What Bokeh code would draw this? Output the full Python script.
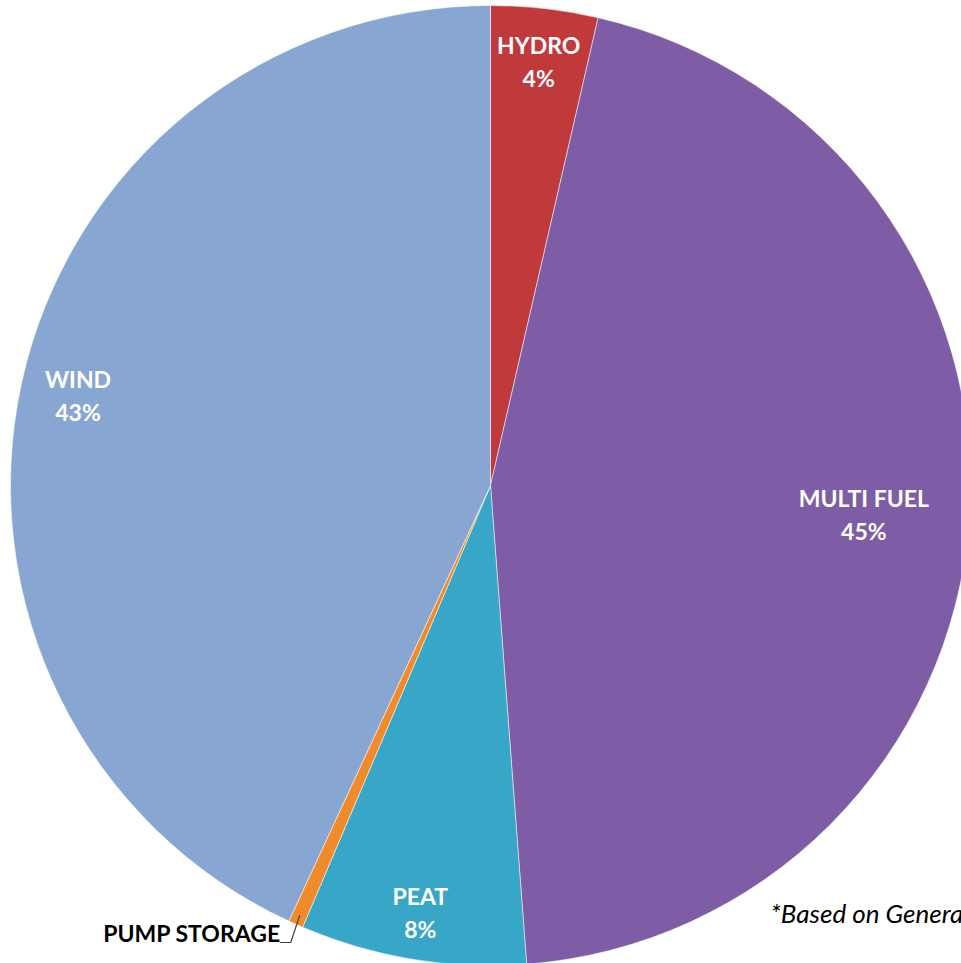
import math
from bokeh.plotting import figure
from bokeh.models import Range1d, ColumnDataSource
from bokeh.core.properties import value
from bokeh.embed import file_html
from bokeh.resources import INLINE

# ---- data ----
categories = ["HYDRO", "MULTI FUEL", "PEAT", "PUMP STORAGE", "WIND"]
shares = [3.6, 45.2, 7.6, 0.5, 43.1]
pct_labels = ["4%", "45%", "8%", "", "43%"]
colors = ["#C0393B", "#7E5CA6", "#38A6C6", "#F08A2B", "#88A6D2"]
note = "*Based on Generation Capacity"

W, H = 961, 963
cx, cy, R = 490, H - 485, 480

total = sum(shares)
starts, ends, mids = [], [], []
acc = 0.0
for s in shares:
    a0 = math.pi / 2 - 2 * math.pi * acc / total
    acc += s
    a1 = math.pi / 2 - 2 * math.pi * acc / total
    starts.append(a0)
    ends.append(a1)
    mids.append((a0 + a1) / 2)

p = figure(width=W, height=H, output_backend="svg", toolbar_location=None,
           x_range=Range1d(0, W), y_range=Range1d(0, H), min_border=0)
p.axis.visible = False
p.grid.visible = False
p.outline_line_color = None
p.background_fill_color = "white"
p.border_fill_color = "white"

src = ColumnDataSource(dict(x=[cx] * 5, y=[cy] * 5, start=starts, end=ends, color=colors))
p.wedge(x="x", y="y", radius=R, start_angle="start", end_angle="end",
        direction="clock", fill_color="color", line_color="#ffffff",
        line_alpha=0.5, line_width=1, source=src)

FS = "23px"
# in-slice labels
rfrac = [0.89, 0.78, 0.90, None, 0.88]
for cat, pct, m, rf in zip(categories, pct_labels, mids, rfrac):
    if rf is None:
        continue
    lx = cx + rf * R * math.cos(m)
    ly = cy + rf * R * math.sin(m)
    p.text(x=[lx], y=[ly + 16], text=[cat], text_align="center", text_baseline="middle",
           text_color="white", text_font=value("Lato"), text_font_style="bold",
           text_font_size=FS)
    p.text(x=[lx], y=[ly - 17], text=[pct], text_align="center", text_baseline="middle",
           text_color="white", text_font=value("Lato"), text_font_style="bold",
           text_font_size=FS)

# pump storage callout
m = mids[3]
ex = cx + (R - 10) * math.cos(m)
ey = cy + (R - 10) * math.sin(m)
p.line(x=[ex, ex - 9, ex - 20], y=[ey, H - 942, H - 942], line_color="#404040", line_width=1.2)
p.text(x=[ex - 19], y=[H - 932], text=[categories[3]], text_align="right", text_baseline="middle",
       text_color="black", text_font=value("Lato"), text_font_style="bold", text_font_size=FS)

# note
p.text(x=[770], y=[H - 912], text=[note], text_align="left", text_baseline="middle",
       text_color="black", text_font=value("Lato"), text_font_style="italic", text_font_size="26px")

open("out.html", "w").write(file_html(p, INLINE))
